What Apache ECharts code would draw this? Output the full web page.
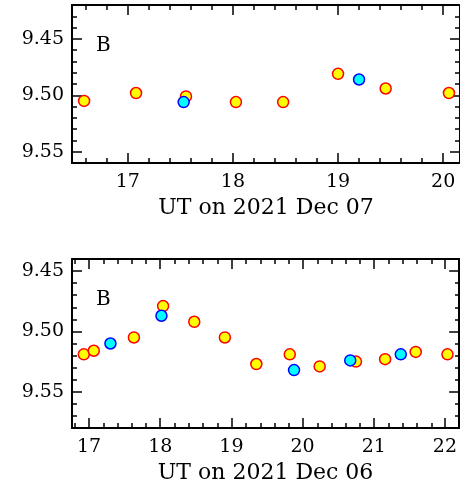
<!DOCTYPE html>
<html>
<head>
<meta charset="utf-8">
<title>B light curves</title>
<script src="https://cdn.jsdelivr.net/npm/echarts@6/dist/echarts.min.js"></script>
<style>
body{margin:0;background:#fff;}
#chart{width:460px;height:489px;background:#fff;}
</style>
</head>
<body>
<div id="chart"></div>
<script>
// top panel: 2021 Dec 07
var dec07YellowT   = [16.585, 17.079, 17.554, 18.029, 18.478, 19.0, 19.453, 20.055];
var dec07YellowMag = [9.505, 9.498, 9.501, 9.506, 9.506, 9.481, 9.494, 9.498];
var dec07CyanT     = [17.532, 19.2];
var dec07CyanMag   = [9.506, 9.486];

// bottom panel: 2021 Dec 06
var dec06YellowT   = [16.926, 17.066, 17.63, 18.04, 18.478, 18.908, 19.35, 19.82, 20.24, 20.75, 21.16, 21.59, 22.036];
var dec06YellowMag = [9.519, 9.516, 9.505, 9.479, 9.492, 9.505, 9.527, 9.519, 9.529, 9.525, 9.523, 9.517, 9.519];
var dec06CyanT     = [17.30, 18.017, 19.88, 20.67, 21.38];
var dec06CyanMag   = [9.510, 9.487, 9.532, 9.524, 9.519];

// tick labels
var dec07HourTicks = [17, 18, 19, 20];
var dec06HourTicks = [17, 18, 19, 20, 21, 22];
var magTicks = [9.45, 9.50, 9.55];

// minor ticks between the labelled ones (majors left out)
function minors(a, b, st, majors){
  var out = [];
  var n = Math.round((b - a) / st);
  for (var i = 0; i <= n; i++){
    var v = Math.round((a + i * st) * 1000) / 1000;
    var isMajor = majors.some(function(m){ return Math.abs(m - v) < 1e-6; });
    if (!isMajor) out.push(v);
  }
  return out;
}
function zip(xs, ys){
  return xs.map(function(x, i){ return [x, ys[i]]; });
}

var FONT = 'DejaVu Serif';
var grids = [], xAxes = [], yAxes = [], series = [], titles = [];

function tick(ticks, len){
  return {show: true, inside: true, interval: 0, alignWithLabel: false, length: len,
    customValues: ticks, lineStyle: {color: '#000', width: 1.5}};
}
function xa(g, pos, r, ticks, len, line, label, name){
  var a = {gridIndex: g, type: 'value', position: pos, min: r[0], max: r[1],
    axisLine: {show: line, onZero: false, lineStyle: {color: '#000', width: 2}},
    splitLine: {show: false},
    axisTick: tick(ticks, len),
    axisLabel: {show: false}};
  if (label){
    a.axisLabel = {show: true, interval: 0, hideOverlap: false, customValues: ticks, color: '#000',
      fontFamily: FONT, fontSize: 19, margin: 10};
    a.name = name;
    a.nameLocation = 'middle';
    a.nameGap = 34;
    a.nameTextStyle = {color: '#000', fontFamily: FONT, fontSize: 22};
  }
  return a;
}
function ya(g, pos, r, ticks, len, line, label){
  var a = {gridIndex: g, type: 'value', position: pos, inverse: true, min: r[0], max: r[1],
    axisLine: {show: line, onZero: false, lineStyle: {color: '#000', width: 2}},
    splitLine: {show: false},
    axisTick: tick(ticks, len),
    axisLabel: {show: false}};
  if (label){
    a.axisLabel = {show: true, interval: 0, hideOverlap: false, customValues: ticks, color: '#000',
      fontFamily: FONT, fontSize: 19, margin: 8, formatter: function(v){ return v.toFixed(2); }};
  }
  return a;
}

// each panel = a data grid (major ticks) + an overlaid grid of the same size (minor ticks)
function panel(top, height, xr, yr, hourTicks, hourMinor, magMinor, name, yellow, cyan){
  var g = grids.length;
  var rect = {left: 72, right: -1, top: top, height: height};
  grids.push(Object.assign({}, rect), Object.assign({}, rect));
  xAxes.push(xa(g, 'bottom', xr, hourTicks, 10, true, true, name), xa(g, 'top', xr, hourTicks, 10, true));
  yAxes.push(ya(g, 'left', yr, magTicks, 10, true, true), ya(g, 'right', yr, magTicks, 10, true));
  xAxes.push(xa(g + 1, 'bottom', xr, hourMinor, 5, false), xa(g + 1, 'top', xr, hourMinor, 5, false));
  yAxes.push(ya(g + 1, 'left', yr, magMinor, 5, false), ya(g + 1, 'right', yr, magMinor, 5, false));
  var ai = g * 2;
  series.push({type: 'scatter', xAxisIndex: ai, yAxisIndex: ai, data: yellow, symbolSize: 11,
    itemStyle: {color: '#ffff00', borderColor: '#ff0000', borderWidth: 1.5, opacity: 1}});
  series.push({type: 'scatter', xAxisIndex: ai, yAxisIndex: ai, data: cyan, symbolSize: 11,
    itemStyle: {color: '#00ffff', borderColor: '#0000ff', borderWidth: 1.5, opacity: 1}});
  titles.push({text: 'B', left: 96, top: top + 31, padding: 0,
    textStyle: {color: '#000', fontFamily: FONT, fontSize: 20, fontWeight: 'normal'}});
}

panel(5, 158, [16.47, 20.16], [9.42, 9.56], dec07HourTicks,
  minors(16.6, 20.0, 0.2, dec07HourTicks), minors(9.43, 9.55, 0.01, magTicks), 'UT on 2021 Dec 07',
  zip(dec07YellowT, dec07YellowMag), zip(dec07CyanT, dec07CyanMag));
panel(259, 169, [16.76, 22.2], [9.44, 9.58], dec06HourTicks,
  minors(16.8, 22.0, 0.2, dec06HourTicks), minors(9.44, 9.57, 0.01, magTicks), 'UT on 2021 Dec 06',
  zip(dec06YellowT, dec06YellowMag), zip(dec06CyanT, dec06CyanMag));

var chart = echarts.init(document.getElementById('chart'));
chart.setOption({
  animation: false,
  title: titles,
  grid: grids,
  xAxis: xAxes,
  yAxis: yAxes,
  series: series
});
</script>
</body>
</html>
